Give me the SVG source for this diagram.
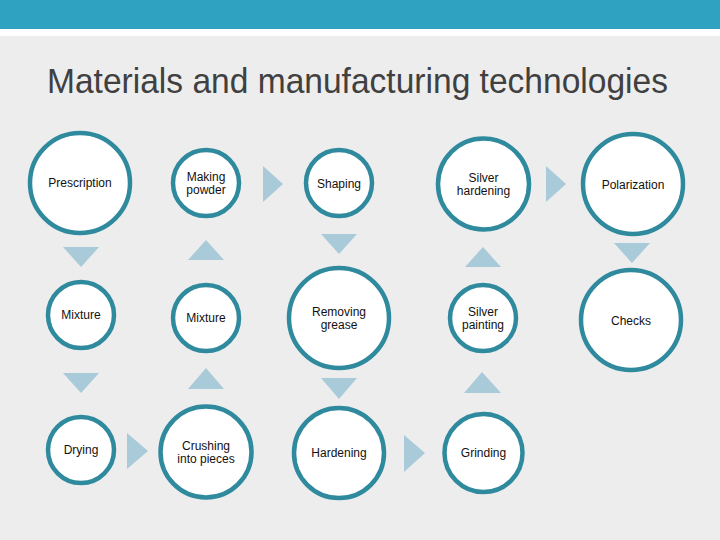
<svg xmlns="http://www.w3.org/2000/svg" width="720" height="540" viewBox="0 0 720 540">
<style>
.n{fill:#ffffff;stroke:#2F8A9E;stroke-width:4.5}
.t{font-family:"Liberation Sans",Arial,sans-serif;font-size:12px;fill:#111;text-anchor:middle}
.a{fill:#A9CAD9}
</style>
<rect width="720" height="540" fill="#EDEDED"/>
<rect width="720" height="29" fill="#2EA2C0"/>
<rect y="29" width="720" height="7" fill="#FFFFFF"/>
<text x="47" y="93" font-family="'Liberation Sans',Arial,sans-serif" font-size="35" fill="#404040" textLength="621" lengthAdjust="spacingAndGlyphs">Materials and manufacturing technologies</text>
<g id="connectors">
<polygon class="a" points="63,247 99,247 81,267"/>
<polygon class="a" points="63,373 99,373 81,393"/>
<polygon class="a" points="127,433 148,451 127,469"/>
<polygon class="a" points="188,389 224,389 206,368"/>
<polygon class="a" points="188,260 224,260 206,240"/>
<polygon class="a" points="263,166 283,184 263,202"/>
<polygon class="a" points="321,234 357,234 339,254"/>
<polygon class="a" points="321,378 357,378 339,399"/>
<polygon class="a" points="404,435 425,453 404,472"/>
<polygon class="a" points="464,393 501,393 482,372"/>
<polygon class="a" points="465,267 501,267 483,247"/>
<polygon class="a" points="546,166 566,184 546,202"/>
<polygon class="a" points="614,243 650,243 632,263"/>
</g>
<g id="prescription"><circle class="n" cx="80" cy="183" r="50"/><text class="t" x="80" y="187">Prescription</text></g>
<g id="making-powder"><circle class="n" cx="206" cy="183" r="33"/><text class="t" x="206" y="181">Making</text><text class="t" x="206" y="194">powder</text></g>
<g id="shaping"><circle class="n" cx="339" cy="183" r="33"/><text class="t" x="339" y="188">Shaping</text></g>
<g id="silver-hardening"><circle class="n" cx="483.5" cy="184" r="45.5"/><text class="t" x="483.5" y="182">Silver</text><text class="t" x="483.5" y="195">hardening</text></g>
<g id="polarization"><circle class="n" cx="633" cy="184" r="50"/><text class="t" x="633" y="189">Polarization</text></g>
<g id="mixture-1"><circle class="n" cx="81" cy="315" r="33"/><text class="t" x="81" y="319">Mixture</text></g>
<g id="mixture-2"><circle class="n" cx="206" cy="318" r="33"/><text class="t" x="206" y="322">Mixture</text></g>
<g id="removing-grease"><circle class="n" cx="339" cy="318" r="50"/><text class="t" x="339" y="316">Removing</text><text class="t" x="339" y="329">grease</text></g>
<g id="silver-painting"><circle class="n" cx="483" cy="318" r="33"/><text class="t" x="483" y="316">Silver</text><text class="t" x="483" y="329">painting</text></g>
<g id="checks"><circle class="n" cx="631" cy="320" r="50"/><text class="t" x="631" y="325">Checks</text></g>
<g id="drying"><circle class="n" cx="81" cy="450" r="33"/><text class="t" x="81" y="454">Drying</text></g>
<g id="crushing"><circle class="n" cx="206" cy="452" r="45.5"/><text class="t" x="206" y="450">Crushing</text><text class="t" x="206" y="463">into pieces</text></g>
<g id="hardening"><circle class="n" cx="339" cy="453" r="45"/><text class="t" x="339" y="457">Hardening</text></g>
<g id="grinding"><circle class="n" cx="483.5" cy="453" r="39"/><text class="t" x="483.5" y="457">Grinding</text></g>
</svg>
